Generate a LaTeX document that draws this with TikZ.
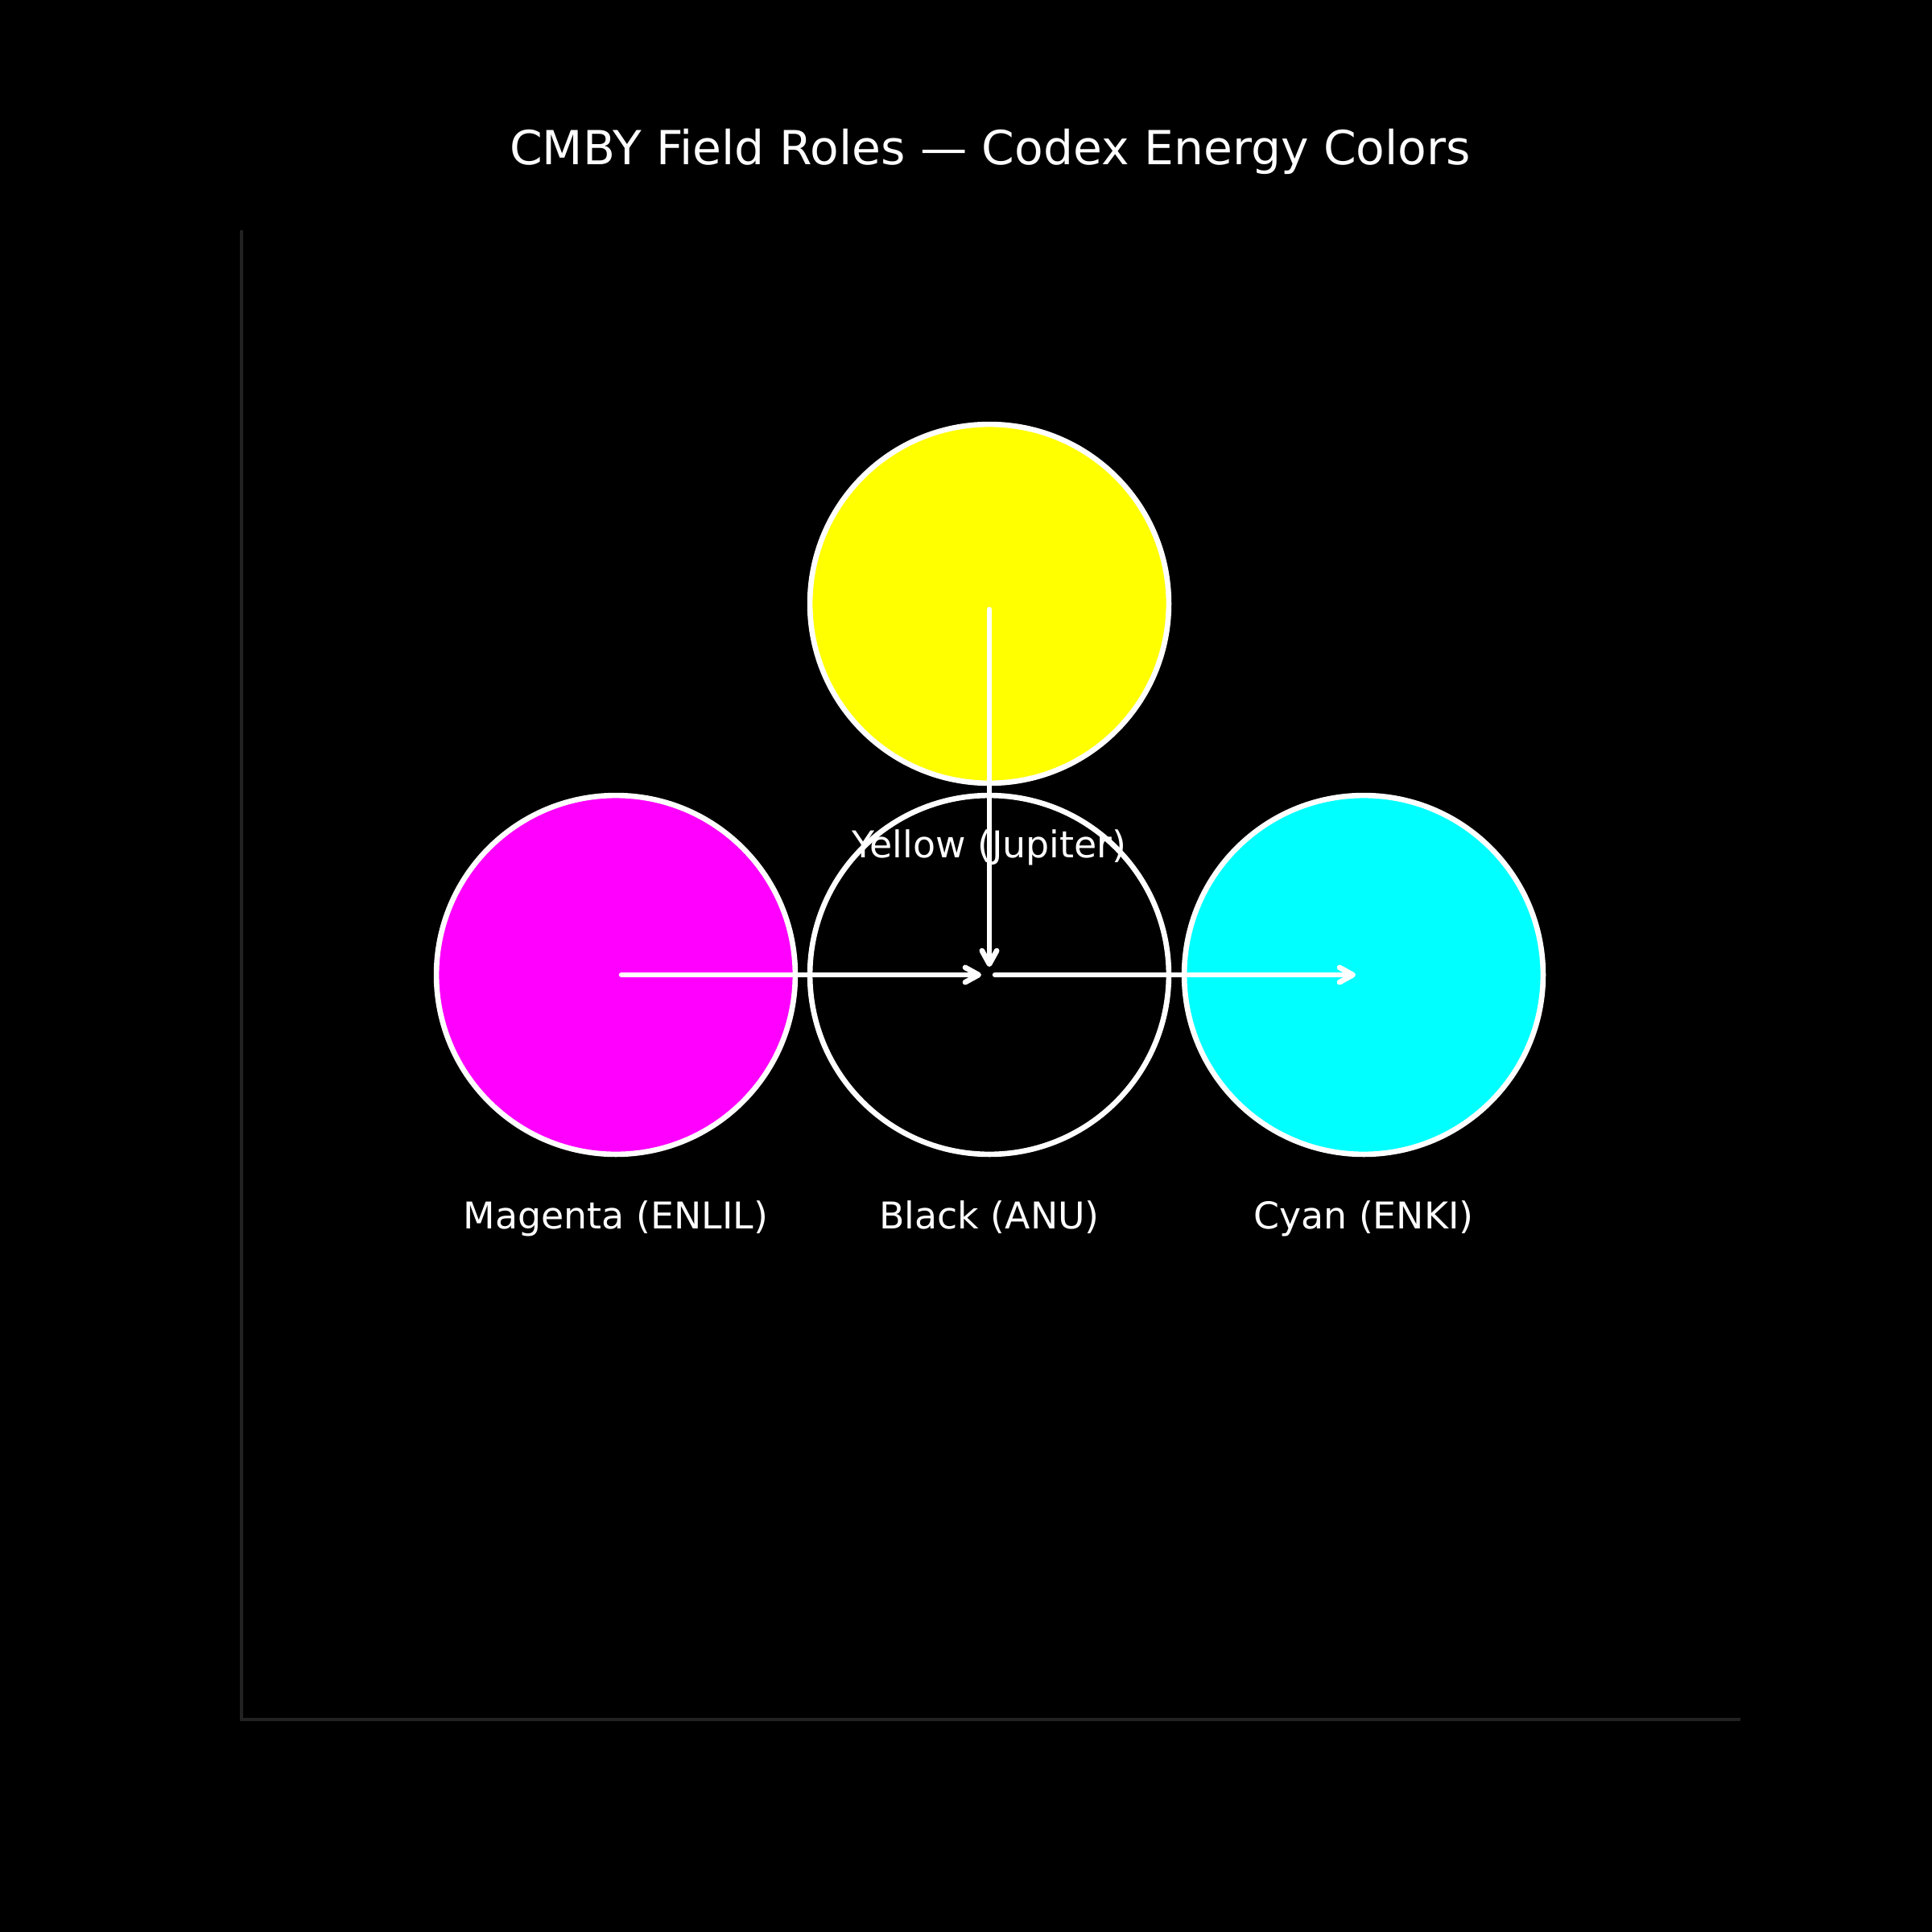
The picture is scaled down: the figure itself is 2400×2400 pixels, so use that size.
\documentclass[tikz,border=0pt]{standalone}
\usepackage{fontspec}
\setmainfont{DejaVu Sans}
\usetikzlibrary{arrows.meta}
\definecolor{spine}{HTML}{222222}
\definecolor{fieldY}{HTML}{FFFF00}
\definecolor{fieldM}{HTML}{FF00FF}
\definecolor{fieldC}{HTML}{00FFFF}
\begin{document}
\begin{tikzpicture}[
  x=0.24pt,y=-0.24pt,
  field/.style={circle,draw=white,line width=1.6pt,minimum size=107pt,inner sep=0pt},
  flow/.style={-{Straight Barb[length=4pt,width=4.4pt,round]},white,line width=1.6pt,line cap=round,shorten <=1.7pt,shorten >=2.4pt},
  lbl/.style={text=white,font=\fontsize{11}{13}\selectfont,anchor=base}
]
% background and page size
\fill[black] (0,0) rectangle (2400,2400);
\useasboundingbox (0,0) rectangle (2400,2400);
% axes frame
\coordinate (axtop) at (300,286);
\coordinate (axorg) at (300,2136);
\coordinate (axend) at (2162,2136);
\draw[spine,line width=1pt] (axtop) -- (axorg) -- (axend);
% title
\node[text=white,font=\fontsize{14}{17}\selectfont,anchor=base] (title) at (1230,205) {CMBY Field Roles — Codex Energy Colors};
% fields
\node[field,fill=fieldY] (yel) at (1229,750) {};
\node[field,fill=fieldM] (mag) at (765,1211) {};
\node[field,fill=black] (blk) at (1229,1211) {};
\node[field,fill=fieldC] (cyn) at (1694,1211) {};
% flows
\draw[flow] (mag.center) -- (blk.center);
\draw[flow] (blk.center) -- (cyn.center);
\draw[flow] (yel.center) -- (blk.center);
% labels
\node[lbl] (lblY) at (1229,1065) {Yellow (Jupiter)};
\node[lbl] (lblM) at (765,1526) {Magenta (ENLIL)};
\node[lbl] (lblK) at (1229,1526) {Black (ANU)};
\node[lbl] (lblC) at (1694,1526) {Cyan (ENKI)};
\end{tikzpicture}
\end{document}
